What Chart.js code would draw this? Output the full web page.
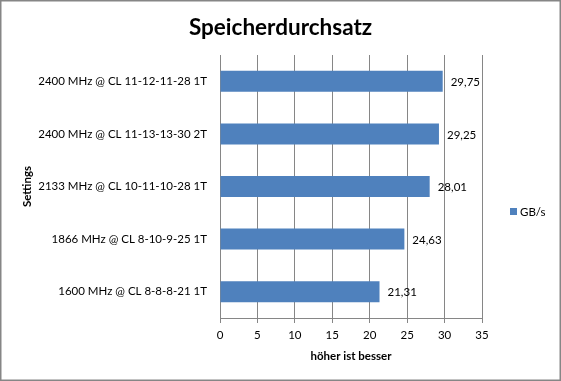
<!DOCTYPE html>
<html>
<head>
<meta charset="utf-8">
<script src="https://cdn.jsdelivr.net/npm/chart.js@4/dist/chart.umd.min.js"></script>
<style>
  html, body { margin: 0; padding: 0; background: #fff; }
  #wrap { width: 561px; height: 381px; }
</style>
</head>
<body>
<div id="wrap"><canvas id="c" width="561" height="381"></canvas></div>
<script>
const categories = [
  "2400 MHz @ CL 11-12-11-28 1T",
  "2400 MHz @ CL 11-13-13-30 2T",
  "2133 MHz @ CL 10-11-10-28 1T",
  "1866 MHz @ CL 8-10-9-25 1T",
  "1600 MHz @ CL 8-8-8-21 1T"
];
const seriesName = "GB/s";
const values = [29.75, 29.25, 28.01, 24.63, 21.31];
const xTicks = [0, 5, 10, 15, 20, 25, 30, 35];

const FONT = "Lato, 'Open Sans', sans-serif";
const BAR = "#4F81BD";
const GRID = "#868686";

const fmt = v => v.toFixed(2).replace('.', ',');

const frame = {
  id: 'frame',
  beforeDraw(chart) {
    const ctx = chart.ctx;
    ctx.save();
    ctx.fillStyle = '#fff';
    ctx.fillRect(0, 0, chart.width, chart.height);
    ctx.restore();
  },
  afterDraw(chart) {
    const ctx = chart.ctx;
    ctx.save();
    ctx.strokeStyle = GRID;
    ctx.lineWidth = 1.5;
    ctx.strokeRect(0.75, 0.75, chart.width - 1.5, chart.height - 1.5);
    ctx.restore();
  }
};

const valueLabels = {
  id: 'valueLabels',
  afterDatasetsDraw(chart) {
    const ctx = chart.ctx;
    const meta = chart.getDatasetMeta(0);
    ctx.save();
    ctx.font = "11.5px " + FONT;
    ctx.fillStyle = "#000";
    ctx.textAlign = "left";
    ctx.textBaseline = "middle";
    meta.data.forEach((el, i) => {
      ctx.fillText(fmt(chart.data.datasets[0].data[i]), el.x + 8, el.y + 1);
    });
    ctx.restore();
  }
};

const sideLegend = {
  id: 'sideLegend',
  afterDraw(chart) {
    const ctx = chart.ctx;
    const ds = chart.data.datasets[0];
    ctx.save();
    ctx.fillStyle = ds.backgroundColor;
    ctx.fillRect(510, 208, 7, 7);
    ctx.font = "11.5px " + FONT;
    ctx.fillStyle = "#000";
    ctx.textAlign = "left";
    ctx.textBaseline = "middle";
    ctx.fillText(ds.label, 520, 212);
    ctx.restore();
  }
};

new Chart(document.getElementById('c'), {
  type: 'bar',
  data: {
    labels: categories,
    datasets: [{
      label: seriesName,
      data: values,
      backgroundColor: BAR,
      borderWidth: 0,
      barPercentage: 0.4,
      categoryPercentage: 1.0
    }]
  },
  options: {
    indexAxis: 'y',
    responsive: false,
    animation: false,
    devicePixelRatio: 1,
    layout: { padding: 0 },
    plugins: {
      legend: { display: false },
      tooltip: { enabled: false },
      title: {
        display: true,
        text: 'Speicherdurchsatz',
        color: '#000',
        font: { family: FONT, size: 22.5, weight: 'bold' },
        padding: { top: 14, bottom: 14 }
      }
    },
    scales: {
      x: {
        min: 0, max: 35,
        afterBuildTicks(scale) { scale.ticks = xTicks.map(v => ({ value: v })); },
        afterFit(scale) { scale.height = 63; },
        grid: { color: GRID, tickLength: 5, drawTicks: true, tickColor: GRID },
        border: { color: GRID },
        ticks: { color: '#000', font: { family: FONT, size: 11.5 }, padding: 5, maxRotation: 0 },
        title: {
          display: true, text: 'höher ist besser', color: '#000',
          font: { family: FONT, size: 11.5, weight: 'bold' },
          padding: { top: 0, bottom: 18 }
        }
      },
      y: {
        afterFit(scale) { scale.width = 220; },
        grid: { display: false, drawTicks: false },
        border: { color: GRID },
        ticks: { color: '#000', font: { family: FONT, size: 11.5 }, padding: 13 },
        title: {
          display: true, text: 'Settings', color: '#000',
          font: { family: FONT, size: 11.5, weight: 'bold' },
          padding: { top: 20, bottom: 0 }
        }
      },
      yRight: {
        type: 'category',
        position: 'right',
        display: true,
        afterFit(scale) { scale.width = 79; },
        grid: { display: false, drawTicks: false },
        border: { display: false },
        ticks: { display: false }
      }
    }
  },
  plugins: [frame, valueLabels, sideLegend]
});
</script>
</body>
</html>
